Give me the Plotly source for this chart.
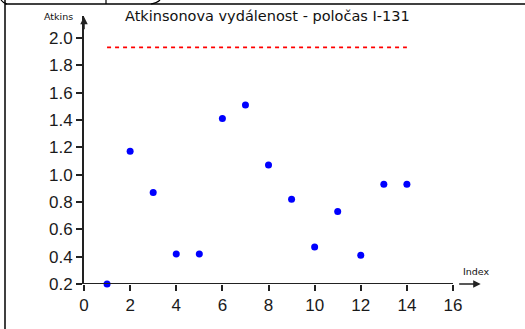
import plotly.graph_objects as go

# Measured values (index vs. Atkinson distance)
index_vals = [1, 2, 3, 4, 5, 6, 7, 8, 9, 10, 11, 12, 13, 14]
atkins_vals = [0.20, 1.17, 0.87, 0.42, 0.42, 1.41, 1.51, 1.07, 0.82, 0.47, 0.73, 0.41, 0.93, 0.93]

# Critical limit (dashed red line) spanning the index range
limit_x = [1, 14]
limit_y = [1.93, 1.93]

x_ticks = [0, 2, 4, 6, 8, 10, 12, 14, 16]
y_ticks = [0.2, 0.4, 0.6, 0.8, 1.0, 1.2, 1.4, 1.6, 1.8, 2.0]
y_tick_text = [f"{v:.1f}" for v in y_ticks]

title_text = "Atkinsonova vydálenost - poločas I-131"
x_label = "Index"
y_label = "Atkins"

AXIS_COL = "#222222"
TICK_FONT = dict(family="Liberation Sans, Arial, sans-serif", size=17, color="#1a1a1a")
SMALL_FONT = dict(family="DejaVu Sans, sans-serif", size=9.5, color="#111111")

W, H = 525, 329
ML, MR, MT, MB = 84, 42, 16, 45
PW, PH = W - ML - MR, H - MT - MB


def px(x):
    """Screen x (pixels from left) -> paper fraction."""
    return (x - ML) / PW


def py(y):
    """Screen y (pixels from top) -> paper fraction."""
    return (H - MB - y) / PH


fig = go.Figure()

fig.add_trace(go.Scatter(
    x=limit_x, y=limit_y, mode="lines",
    line=dict(color="#ff0000", width=1.7, dash="4px,4px"),
    hoverinfo="skip", showlegend=False,
))

fig.add_trace(go.Scatter(
    x=index_vals, y=atkins_vals, mode="markers",
    marker=dict(color="#0000ff", size=7, line=dict(width=0)),
    cliponaxis=False, showlegend=False,
))

# x axis line from 0 to the last tick
fig.add_shape(type="line", xref="x", yref="y",
              x0=x_ticks[0], x1=x_ticks[-1], y0=y_ticks[0], y1=y_ticks[0],
              line=dict(color=AXIS_COL, width=1.8))

# axis arrows
fig.add_annotation(x=17.2, y=y_ticks[0], xref="x", yref="y", ax=-23, ay=0,
                   text="", showarrow=True, arrowhead=2, arrowsize=1,
                   arrowwidth=1.5, arrowcolor=AXIS_COL)
fig.add_annotation(x=0, y=2.155, xref="x", yref="y", ax=0, ay=14,
                   text="", showarrow=True, arrowhead=2, arrowsize=1,
                   arrowwidth=1.5, arrowcolor=AXIS_COL)

# axis labels and title
fig.add_annotation(x=px(476), y=py(271), xref="paper", yref="paper",
                   xanchor="center", yanchor="middle",
                   text=x_label, showarrow=False, font=SMALL_FONT)
fig.add_annotation(x=px(58), y=py(17), xref="paper", yref="paper",
                   xanchor="center", yanchor="middle",
                   text=y_label, showarrow=False, font=SMALL_FONT)
fig.add_annotation(x=px(267), y=py(16), xref="paper", yref="paper",
                   xanchor="center", yanchor="middle",
                   text=title_text, showarrow=False,
                   font=dict(family="DejaVu Sans, sans-serif", size=14.5, color="#111111"))

# outer frame lines on the left and top
frame = dict(color="#000000", width=1.5)
fig.add_shape(type="line", xref="paper", yref="paper",
              x0=px(5), x1=px(5), y0=py(0), y1=py(H), line=frame)
fig.add_shape(type="line", xref="paper", yref="paper",
              x0=px(5), x1=px(W), y0=py(4), y1=py(4), line=frame)
fig.add_shape(type="line", xref="paper", yref="paper",
              x0=px(106), x1=px(106), y0=py(0), y1=py(4),
              line=dict(color="#000000", width=1.2))
fig.add_shape(type="path", xref="paper", yref="paper",
              path=f"M {px(1)},{py(0)} Q {px(3)},{py(3)} {px(7)},{py(4)}",
              line=dict(color="#000000", width=1.2))
fig.add_shape(type="path", xref="paper", yref="paper",
              path=f"M {px(151)},{py(4)} Q {px(157)},{py(3)} {px(160)},{py(0)}",
              line=dict(color="#000000", width=1.2))

fig.update_layout(
    width=W, height=H,
    margin=dict(l=ML, r=MR, t=MT, b=MB),
    paper_bgcolor="white", plot_bgcolor="white",
    showlegend=False,
    xaxis=dict(range=[0, 17.3], tickvals=x_ticks, ticktext=[str(v) for v in x_ticks],
               ticks="outside", ticklen=6, tickwidth=1.5, tickcolor=AXIS_COL,
               showline=False, showgrid=False, zeroline=False,
               tickfont=TICK_FONT, fixedrange=True),
    yaxis=dict(range=[0.2, 2.16], tickvals=y_ticks, ticktext=y_tick_text,
               ticks="outside", ticklen=6, tickwidth=1.5, tickcolor=AXIS_COL,
               showline=True, linecolor=AXIS_COL, linewidth=1.8,
               showgrid=False, zeroline=False,
               tickfont=TICK_FONT, fixedrange=True),
)

fig.write_html("out.html")
